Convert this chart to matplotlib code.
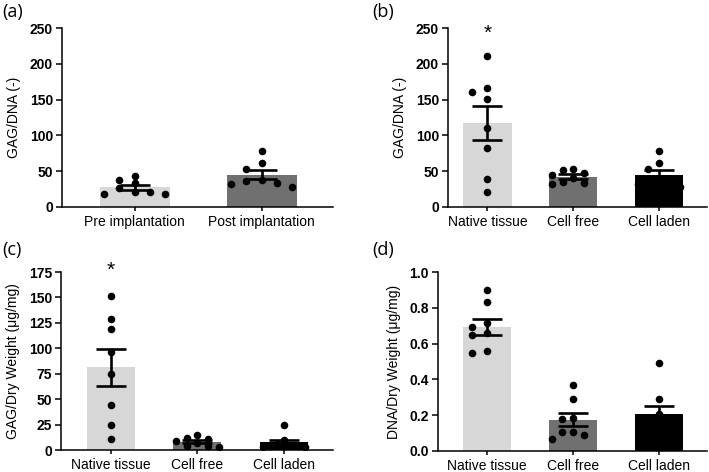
import matplotlib
matplotlib.use("Agg")
import matplotlib.pyplot as plt
import numpy as np

plt.rcParams['font.family'] = ['Liberation Sans', 'DejaVu Sans']

# ---------------- data ----------------
cats_a = ["Pre implantation", "Post implantation"]
pre_impl = [17.7, 37.2, 27.0, 43.8, 20.5, 33.0, 21.0, 17.7]
post_impl = [32.6, 37.7, 78.2, 53.0, 33.5, 62.0, 36.8, 28.4]
err_a = [4.0, 5.8]

cats = ["Native tissue", "Cell free", "Cell laden"]
gagdna_native = [210.9, 166.7, 161.0, 150.4, 110.8, 82.0, 39.0, 21.0]
gagdna_free = [44.7, 31.7, 52.6, 40.0, 47.0, 33.0, 51.7, 35.4]
gagdna_laden = [32.6, 37.7, 78.2, 53.0, 33.5, 62.0, 36.8, 28.4]
err_b = [23.5, 3.5, 5.8]

gagdw_native = [151.4, 128.8, 119.3, 96.4, 75.0, 44.6, 24.9, 10.5]
gagdw_free = [3.6, 15.0, 7.0, 12.0, 4.0, 9.0, 11.0, 3.0]
gagdw_laden = [25.0, 9.5, 5.0, 4.0, 3.0, 6.0, 4.0, 3.0]
err_c = [18.0, 1.5, 2.5]

dnadw_native = [0.899, 0.830, 0.692, 0.716, 0.647, 0.657, 0.545, 0.560]
dnadw_free = [0.368, 0.293, 0.176, 0.185, 0.106, 0.106, 0.069, 0.088]
dnadw_laden = [0.489, 0.293, 0.205, 0.181, 0.172, 0.116, 0.116, 0.060]
err_d = [0.046, 0.037, 0.046]

yticks_a = [0, 50, 100, 150, 200, 250]
yticks_c = [0, 25, 50, 75, 100, 125, 150, 175]
yticks_d = [0.0, 0.2, 0.4, 0.6, 0.8, 1.0]

col_light = "#d7d7d7"
col_mid = "#707070"
col_dark = "#000000"

W, H = 709, 472
fig = plt.figure(figsize=(W / 100, H / 100), dpi=100)


def ax_px(l, r, t, b):
    return fig.add_axes([l / W, 1 - b / H, (r - l) / W, (b - t) / H])


DOT_D = 7.3  # px


def column_swarm(py_list, step):
    order = np.argsort(py_list)
    placed = []
    ks = np.zeros(len(py_list), dtype=int)
    for i in order:
        py = py_list[i]
        for k in [0, -1, 1, -2, 2, -3, 3, -4, 4, -5, 5]:
            if all(not (pk == k and abs(pp - py) < DOT_D * 1.0) for pk, pp in placed):
                placed.append((k, py))
                ks[i] = k
                break
    return ks * step


def swarm(ax, x0, vals, half_w):
    trans = ax.transData
    cx, _ = trans.transform((x0, 0))
    pys = np.array([trans.transform((x0, v))[1] for v in vals])
    step = DOT_D * 2.1
    offs = column_swarm(-pys, step)
    maxk = np.max(np.abs(offs)) / step
    if maxk > 0 and maxk * step > half_w * 0.88:
        step = half_w * 0.88 / maxk
        offs = column_swarm(-pys, step)
    return np.array([trans.inverted().transform((cx + o, py))[0] for o, py in zip(offs, pys)])


def panel(ax, groups, colors, errs, labels, xlim, ylim, yticks, ylabel, fmt="{:g}", width=0.56):
    x = np.arange(len(groups))
    means = [np.mean(g) for g in groups]
    ax.set_xlim(*xlim)
    ax.set_ylim(*ylim)
    ax.bar(x, means, width=width, color=colors, zorder=1)
    ax.errorbar(x, means, yerr=errs, fmt="none", ecolor="black",
                elinewidth=1.9, capsize=10.5, capthick=1.9, zorder=3)
    px_per_unit = ax.transData.transform((1, 0))[0] - ax.transData.transform((0, 0))[0]
    half_w = width * px_per_unit / 2
    for xi, g in zip(x, groups):
        xs = swarm(ax, xi, g, half_w)
        ax.scatter(xs, g, s=30, color="black", zorder=4, linewidths=0)
    ax.set_xticks(x)
    ax.set_xticklabels(labels, fontsize=10)
    ax.set_yticks(yticks)
    ax.set_yticklabels([fmt.format(v) for v in yticks], fontsize=10, fontweight="bold")
    ax.tick_params(axis="y", length=4.5, width=1.1, pad=2)
    ax.tick_params(axis="x", length=3, width=1.1, pad=3)
    for s in ["top", "right"]:
        ax.spines[s].set_visible(False)
    for s in ["left", "bottom"]:
        ax.spines[s].set_linewidth(1.1)
    ax.set_ylabel(ylabel, fontsize=10, labelpad=6)
    return means


# (a)
axa = ax_px(62, 333, 28, 207)
panel(axa, [pre_impl, post_impl], [col_light, col_mid], err_a, cats_a,
      (-0.57, 1.56), (0, 250), yticks_a, "GAG/DNA (-)", width=0.55)

# (b)
axb = ax_px(448, 707, 28, 207)
panel(axb, [gagdna_native, gagdna_free, gagdna_laden], [col_light, col_mid, col_dark],
      err_b, cats, (-0.46, 2.56), (0, 250), yticks_a, "GAG/DNA (-)", width=0.564)
axb.text(0, 243, "*", ha="center", va="center", fontsize=15)

# (c)
axc = ax_px(61, 333, 272, 450)
panel(axc, [gagdw_native, gagdw_free, gagdw_laden], [col_light, col_mid, col_dark],
      err_c, cats, (-0.58, 2.57), (0, 175), yticks_c, "GAG/Dry Weight (\u03bcg/mg)", width=0.555)
axc.text(0, 177, "*", ha="center", va="center", fontsize=15)

# (d)
axd = ax_px(438, 707, 272, 451)
panel(axd, [dnadw_native, dnadw_free, dnadw_laden], [col_light, col_mid, col_dark],
      err_d, cats, (-0.57, 2.56), (0, 1.0), yticks_d, "DNA/Dry Weight (\u03bcg/mg)",
      fmt="{:.1f}", width=0.564)

for lab, (px, py) in zip(["(a)", "(b)", "(c)", "(d)"],
                         [(2, 12), (372, 12), (2, 250), (372, 250)]):
    fig.text(px / W, 1 - py / H, lab, fontsize=13, ha="left", va="center",
             family=["Open Sans", "DejaVu Sans"])

fig.savefig("out.png", dpi=100)
